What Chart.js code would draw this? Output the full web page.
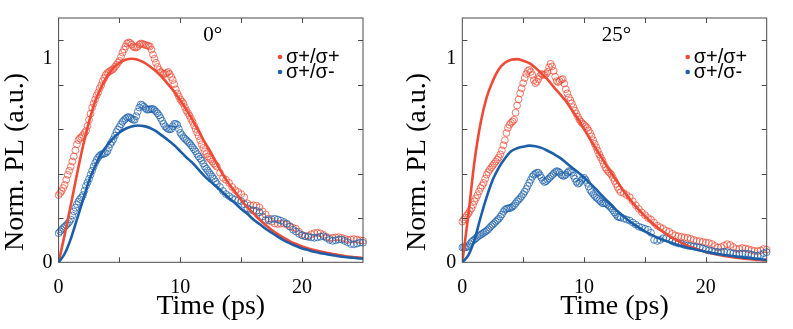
<!DOCTYPE html>
<html>
<head>
<meta charset="utf-8">
<script src="https://cdn.jsdelivr.net/npm/chart.js@4.4.1/dist/chart.umd.min.js"></script>
<style>
  html, body { margin: 0; padding: 0; background: #fff; }
  #wrap { position: relative; width: 793px; height: 329px; }
  .panel { position: absolute; top: 0; height: 329px; }
</style>
</head>
<body>
<div id="wrap">
  <div class="panel" style="left:0;width:400px"><canvas id="c0"></canvas></div>
  <div class="panel" style="left:400px;width:393px"><canvas id="c1"></canvas></div>
</div>
<script>
// time grids (ps): finer sampling over the rise, coarser over the tail
const tData = [
  ...Array.from({ length: 105 }, (_, i) => i * 0.125),
  ...Array.from({ length: 48 }, (_, i) => 13.25 + i * 0.25)
];
const tFit = Array.from({ length: 51 }, (_, i) => i * 0.5);

const xLabels = [0, 10, 20];
const yLabels = [0, 1];
const xMarks = [5, 10, 15, 20];
const yMarks = [0.218, 0.436, 0.655, 0.873, 1.092];

const seriesNames = ['σ+/σ+', 'σ+/σ-'];
const panelTitles = ['0°', '25°'];

// 0 degree panel
const pl0Co = [
  0.33, 0.34, 0.35, 0.365, 0.38, 0.405, 0.43, 0.45,
  0.47, 0.495, 0.52, 0.55, 0.58, 0.60, 0.61, 0.615,
  0.625, 0.635, 0.645, 0.67, 0.70, 0.73, 0.76, 0.78,
  0.80, 0.82, 0.835, 0.855, 0.87, 0.89, 0.905, 0.92,
  0.93, 0.935, 0.94, 0.945, 0.95, 0.96, 0.97, 0.98,
  0.99, 1.01, 1.03, 1.045, 1.06, 1.075, 1.08, 1.078,
  1.07, 1.06, 1.055, 1.055, 1.06, 1.07, 1.075, 1.073,
  1.07, 1.068, 1.065, 1.063, 1.06, 1.045, 1.02, 1.0,
  0.98, 0.96, 0.945, 0.935, 0.93, 0.926, 0.925, 0.93,
  0.935, 0.925, 0.91, 0.895, 0.875, 0.85, 0.83, 0.815,
  0.80, 0.79, 0.78, 0.762, 0.745, 0.733, 0.72, 0.705,
  0.69, 0.672, 0.655, 0.638, 0.62, 0.60, 0.58, 0.562,
  0.545, 0.532, 0.52, 0.512, 0.505, 0.495, 0.485, 0.478,
  0.47,
  0.44, 0.415, 0.405, 0.39, 0.37, 0.355, 0.345, 0.335,
  0.32, 0.29, 0.28, 0.28, 0.278, 0.27, 0.25, 0.235,
  0.215, 0.20, 0.19, 0.188, 0.19, 0.19, 0.185, 0.178,
  0.17, 0.165, 0.15, 0.135, 0.128, 0.13, 0.138, 0.143,
  0.145, 0.142, 0.135, 0.125, 0.118, 0.12, 0.122, 0.124,
  0.12, 0.115, 0.11, 0.112, 0.114, 0.112, 0.108, 0.106
];
const pl0Cross = [
  0.143, 0.152, 0.16, 0.168, 0.175, 0.182, 0.19, 0.198,
  0.21, 0.23, 0.25, 0.268, 0.285, 0.298, 0.31, 0.318,
  0.33, 0.352, 0.375, 0.392, 0.41, 0.43, 0.45, 0.47,
  0.488, 0.503, 0.515, 0.524, 0.53, 0.532, 0.533, 0.537,
  0.545, 0.562, 0.58, 0.592, 0.605, 0.622, 0.64, 0.653,
  0.665, 0.678, 0.69, 0.698, 0.705, 0.711, 0.714, 0.71,
  0.705, 0.70, 0.70, 0.718, 0.74, 0.76, 0.775, 0.772,
  0.765, 0.757, 0.75, 0.75, 0.752, 0.753, 0.753, 0.748,
  0.74, 0.732, 0.722, 0.709, 0.695, 0.68, 0.668, 0.66,
  0.655, 0.653, 0.655, 0.668, 0.68, 0.68, 0.675, 0.655,
  0.636, 0.625, 0.615, 0.607, 0.60, 0.592, 0.585, 0.575,
  0.565, 0.555, 0.545, 0.532, 0.52, 0.51, 0.50, 0.485,
  0.47, 0.46, 0.45, 0.44, 0.43, 0.42, 0.41, 0.397,
  0.385,
  0.37, 0.35, 0.335, 0.325, 0.315, 0.308, 0.303, 0.30,
  0.285, 0.265, 0.258, 0.255, 0.253, 0.245, 0.225, 0.208,
  0.206, 0.212, 0.214, 0.21, 0.205, 0.198, 0.19, 0.175,
  0.16, 0.151, 0.14, 0.132, 0.128, 0.125, 0.122, 0.12,
  0.122, 0.126, 0.128, 0.12, 0.11, 0.105, 0.108, 0.112,
  0.112, 0.105, 0.098, 0.09, 0.088, 0.092, 0.097, 0.096
];
const fit0Co = [
  0, 0.136, 0.28, 0.43, 0.57, 0.69, 0.79, 0.86, 0.915, 0.955,
  0.98, 0.995, 1.0, 0.995, 0.982, 0.962, 0.938, 0.909, 0.874, 0.838,
  0.795, 0.75, 0.698, 0.645, 0.59, 0.54, 0.485, 0.43, 0.385, 0.345,
  0.305, 0.27, 0.24, 0.21, 0.183, 0.159, 0.138, 0.12, 0.103, 0.09,
  0.078, 0.068, 0.06, 0.053, 0.047, 0.041, 0.036, 0.031, 0.027, 0.024,
  0.021
];
const fit0Cross = [
  0, 0.042, 0.115, 0.21, 0.305, 0.40, 0.472, 0.534, 0.575, 0.61,
  0.638, 0.656, 0.667, 0.672, 0.669, 0.66, 0.644, 0.622, 0.60, 0.575,
  0.545, 0.515, 0.488, 0.455, 0.422, 0.395, 0.37, 0.342, 0.315, 0.29,
  0.262, 0.238, 0.21, 0.188, 0.165, 0.145, 0.126, 0.108, 0.093, 0.08,
  0.068, 0.06, 0.052, 0.045, 0.04, 0.035, 0.03, 0.026, 0.023, 0.02,
  0.018
];

// 25 degree panel
const pl25Co = [
  0.20, 0.21, 0.22, 0.23, 0.24, 0.252, 0.265, 0.282,
  0.30, 0.315, 0.33, 0.348, 0.365, 0.377, 0.39, 0.41,
  0.43, 0.443, 0.455, 0.465, 0.475, 0.485, 0.495, 0.505,
  0.515, 0.53, 0.55, 0.575, 0.60, 0.635, 0.66, 0.675,
  0.685, 0.692, 0.70, 0.735, 0.77, 0.80, 0.83, 0.855,
  0.88, 0.905, 0.925, 0.94, 0.945, 0.935, 0.92, 0.895,
  0.88, 0.887, 0.90, 0.915, 0.925, 0.922, 0.92, 0.925,
  0.935, 0.958, 0.975, 0.962, 0.94, 0.912, 0.89, 0.885,
  0.89, 0.897, 0.90, 0.878, 0.85, 0.83, 0.81, 0.795,
  0.78, 0.762, 0.745, 0.73, 0.715, 0.70, 0.69, 0.682,
  0.675, 0.668, 0.66, 0.648, 0.635, 0.618, 0.60, 0.582,
  0.565, 0.548, 0.53, 0.515, 0.50, 0.482, 0.465, 0.455,
  0.445, 0.438, 0.43, 0.415, 0.40, 0.385, 0.37, 0.357,
  0.345,
  0.34, 0.33, 0.32, 0.30, 0.28, 0.262, 0.245, 0.232,
  0.218, 0.21, 0.195, 0.18, 0.172, 0.165, 0.155, 0.15,
  0.14, 0.132, 0.128, 0.125, 0.122, 0.12, 0.115, 0.11,
  0.105, 0.104, 0.10, 0.097, 0.095, 0.09, 0.08, 0.073,
  0.075, 0.082, 0.089, 0.085, 0.075, 0.066, 0.066, 0.07,
  0.068, 0.064, 0.06, 0.056, 0.055, 0.058, 0.065, 0.062
];
const pl25Cross = [
  0.073, 0.073, 0.073, 0.075, 0.08, 0.09, 0.10, 0.106,
  0.112, 0.118, 0.125, 0.13, 0.135, 0.14, 0.145, 0.15,
  0.155, 0.162, 0.17, 0.178, 0.185, 0.192, 0.20, 0.207,
  0.214, 0.224, 0.235, 0.248, 0.258, 0.263, 0.265, 0.266,
  0.268, 0.273, 0.28, 0.29, 0.30, 0.307, 0.315, 0.325,
  0.335, 0.347, 0.36, 0.375, 0.39, 0.405, 0.42, 0.43,
  0.435, 0.44, 0.44, 0.428, 0.415, 0.402, 0.394, 0.398,
  0.405, 0.412, 0.42, 0.428, 0.435, 0.443, 0.448, 0.446,
  0.44, 0.43, 0.425, 0.425, 0.43, 0.44, 0.448, 0.446,
  0.44, 0.425, 0.41, 0.395, 0.386, 0.39, 0.40, 0.41,
  0.415, 0.405, 0.39, 0.372, 0.355, 0.345, 0.335, 0.326,
  0.318, 0.312, 0.305, 0.298, 0.29, 0.29, 0.29, 0.286,
  0.28, 0.273, 0.265, 0.255, 0.245, 0.235, 0.225, 0.222,
  0.22,
  0.215, 0.21, 0.205, 0.195, 0.185, 0.175, 0.17, 0.165,
  0.16, 0.145, 0.11, 0.105, 0.11, 0.118, 0.12, 0.112,
  0.103, 0.097, 0.093, 0.09, 0.085, 0.082, 0.08, 0.078,
  0.075, 0.073, 0.068, 0.062, 0.058, 0.056, 0.053, 0.05,
  0.05, 0.052, 0.05, 0.047, 0.044, 0.042, 0.043, 0.044,
  0.043, 0.042, 0.038, 0.034, 0.032, 0.036, 0.045, 0.05
];
const fit25Co = [
  0, 0.235, 0.495, 0.683, 0.81, 0.89, 0.948, 0.98, 0.995, 0.998,
  0.99, 0.978, 0.956, 0.928, 0.898, 0.862, 0.828, 0.792, 0.748, 0.705,
  0.654, 0.605, 0.556, 0.508, 0.46, 0.415, 0.372, 0.33, 0.292, 0.258,
  0.227, 0.198, 0.172, 0.149, 0.129, 0.111, 0.096, 0.082, 0.07, 0.06,
  0.051, 0.044, 0.037, 0.031, 0.027, 0.023, 0.019, 0.016, 0.013, 0.011,
  0.009
];
const fit25Cross = [
  0, 0.035, 0.11, 0.22, 0.32, 0.405, 0.465, 0.51, 0.545, 0.56,
  0.568, 0.573, 0.57, 0.562, 0.548, 0.532, 0.514, 0.49, 0.466, 0.442,
  0.416, 0.388, 0.358, 0.326, 0.295, 0.265, 0.238, 0.213, 0.19, 0.17,
  0.152, 0.136, 0.122, 0.11, 0.099, 0.089, 0.08, 0.072, 0.065, 0.058,
  0.052, 0.046, 0.041, 0.036, 0.032, 0.028, 0.024, 0.021, 0.018, 0.015,
  0.012
];

const RED = '#ee4a35';
const BLUE = '#1c5fa8';
const SERIF = '"Liberation Serif", "Times New Roman", serif';
const SANS = '"Liberation Sans", Arial, sans-serif';

const pts = (xs, ys) => ys.map((y, i) => ({ x: xs[i], y: y }));

// box, inward ticks, panel title, legend and y title
const framePlugin = {
  id: 'frame',
  afterDatasetsDraw(chart, args, opts) {
    const { ctx, chartArea: a, scales: { x, y } } = chart;
    ctx.save();
    ctx.strokeStyle = '#4a4a4a';
    ctx.lineWidth = 1;
    ctx.strokeRect(a.left, a.top, a.right - a.left, a.bottom - a.top);
    ctx.beginPath();
    xMarks.forEach(v => {
      const px = Math.round(x.getPixelForValue(v)) + 0.5;
      ctx.moveTo(px, a.bottom); ctx.lineTo(px, a.bottom - 5);
      ctx.moveTo(px, a.top); ctx.lineTo(px, a.top + 5);
    });
    yMarks.forEach(v => {
      const py = Math.round(y.getPixelForValue(v)) + 0.5;
      ctx.moveTo(a.left, py); ctx.lineTo(a.left + 5, py);
      ctx.moveTo(a.right, py); ctx.lineTo(a.right - 5, py);
    });
    ctx.stroke();

    // panel title
    ctx.fillStyle = '#000';
    ctx.font = '21px ' + SERIF;
    ctx.textAlign = 'center';
    ctx.textBaseline = 'middle';
    ctx.fillText(opts.title, (a.left + a.right) / 2 + 2, a.top + 17);

    // legend
    ctx.font = '20px ' + SANS;
    ctx.textAlign = 'left';
    [RED, BLUE].forEach((c, i) => {
      const cy = a.top + 39 + i * 15;
      const cx = a.right - opts.legendRight;
      ctx.fillStyle = c;
      ctx.beginPath();
      ctx.arc(cx, cy, 2.3, 0, Math.PI * 2);
      ctx.fill();
      ctx.fillStyle = '#000';
      ctx.fillText(seriesNames[i], cx + 6, cy);
    });

    // y title
    ctx.font = '28px ' + SERIF;
    ctx.textAlign = 'center';
    ctx.translate(opts.yTitleX, 162);
    ctx.rotate(-Math.PI / 2);
    ctx.fillText('Norm. PL (a.u.)', 0, 0);
    ctx.restore();
  }
};

function makePanel(id, title, co, cross, fitCo, fitCross, yWidth, padRight, legendRight, yTitleX) {
  const circles = (data, color, label) => ({
    label: label,
    data: data,
    showLine: false,
    pointStyle: 'circle',
    pointRadius: 3.4,
    pointBorderWidth: 1,
    pointBorderColor: color + 'c0',
    pointBackgroundColor: 'rgba(255,255,255,0)',
    clip: 4,
    order: 3
  });
  const fitLine = (data, color) => ({
    data: data,
    showLine: true,
    borderColor: color,
    borderWidth: 2.6,
    pointRadius: 0,
    cubicInterpolationMode: 'monotone',
    fill: false,
    order: 1
  });

  new Chart(document.getElementById(id), {
    type: 'scatter',
    data: {
      datasets: [
        fitLine(pts(tFit, fitCross), BLUE),
        fitLine(pts(tFit, fitCo), RED),
        circles(pts(tData, cross), BLUE, seriesNames[1]),
        circles(pts(tData, co), RED, seriesNames[0])
      ]
    },
    options: {
      responsive: true,
      maintainAspectRatio: false,
      animation: false,
      layout: { padding: { left: 0, right: padRight, top: 6.3, bottom: 0 } },
      scales: {
        x: {
          type: 'linear',
          min: 0,
          max: 25,
          afterBuildTicks: s => { s.ticks = xLabels.map(v => ({ value: v })); },
          afterFit: s => { s.height = 66.7; },
          grid: { display: false, drawTicks: false },
          border: { display: false },
          ticks: { color: '#000', font: { family: SERIF, size: 20 }, padding: 13, maxRotation: 0 },
          title: {
            display: true,
            text: 'Time (ps)',
            color: '#000',
            font: { family: SERIF, size: 28, lineHeight: 1.2 },
            padding: { top: 0, bottom: 6 }
          }
        },
        y: {
          type: 'linear',
          min: 0,
          max: 1.2,
          afterBuildTicks: s => { s.ticks = yLabels.map(v => ({ value: v })); },
          afterFit: s => { s.width = yWidth; },
          grid: { display: false, drawTicks: false },
          border: { display: false },
          ticks: { color: '#000', font: { family: SERIF, size: 20 }, padding: 6 }
        }
      },
      plugins: {
        legend: { display: false },
        tooltip: { enabled: false },
        frame: { title: title, legendRight: legendRight, yTitleX: yTitleX }
      }
    },
    plugins: [framePlugin]
  });
}

makePanel('c0', panelTitles[0], pl0Co, pl0Cross, fit0Co, fit0Cross, 58.6, 37, 83, 16);
makePanel('c1', panelTitles[1], pl25Co, pl25Cross, fit25Co, fit25Cross, 62.3, 26.3, 79, 18);
</script>
</body>
</html>
